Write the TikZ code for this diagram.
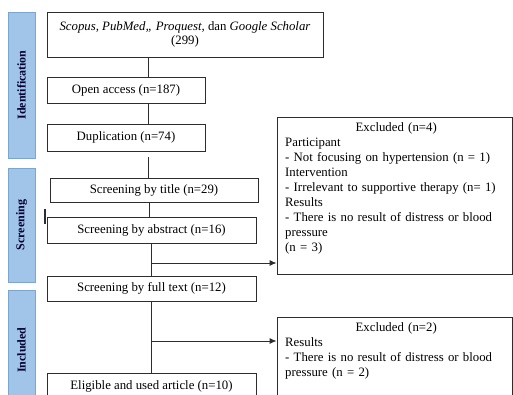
\documentclass[tikz,border=0pt]{standalone}
\usepackage{fontspec}
\setmainfont{Liberation Serif}
\usetikzlibrary{arrows.meta,calc}
\definecolor{barblue}{RGB}{160,197,232}
\definecolor{bardraw}{RGB}{125,165,210}
\definecolor{ln}{RGB}{45,45,45}
\begin{document}
\begin{tikzpicture}[x=1pt,y=-1pt,
  font=\fontsize{12.8}{14.8}\selectfont,
  box/.style={draw=ln, line width=0.9pt, inner sep=0pt, align=center},
  bar/.style={draw=bardraw, fill=barblue, line width=0.7pt, rotate=90,
    font=\fontsize{12}{14}\selectfont\bfseries, text=black!80!blue, inner sep=0pt},
  conn/.style={draw=ln, line width=0.9pt},
  arr/.style={conn, -{Latex[length=7pt,width=6pt]}},
  extext/.style={anchor=north west, text width=222pt, align=left, inner sep=0pt,
    font=\fontsize{12.8}{15.1}\selectfont}]
\useasboundingbox (0,0) rectangle (513,395);
\clip (0,0) rectangle (513,395);
\fill[white] (0,0) rectangle (513,395);

% phase bars
\node[bar, minimum width=146pt, minimum height=27pt] (bid) at (21.5,85) {Identification};
\node[bar, minimum width=114pt, minimum height=27pt] (bsc) at (21.5,225) {Screening};
\node[bar, minimum width=120pt, minimum height=27pt] (bin) at (21.5,350) {Included};

% main boxes
\node[box, minimum width=276pt, minimum height=45pt] (src) at (185,34.5)
  {\textit{Scopus, PubMed,, Proquest,} dan \textit{Google Scholar}\\(299)};
\node[box, minimum width=158pt, minimum height=26pt] (open) at (126,90) {Open access (n=187)};
\node[box, minimum width=158pt, minimum height=27pt] (dup) at (126,137.5) {Duplication (n=74)};
\node[box, minimum width=208pt, minimum height=24pt] (title) at (154,190) {Screening by title (n=29)};
\node[box, minimum width=209pt, minimum height=26pt] (abs) at (151.5,230) {Screening by abstract (n=16)};
\node[box, minimum width=209pt, minimum height=25pt] (full) at (151.5,288.5) {Screening by full text (n=12)};
\node[box, minimum width=209pt, minimum height=26pt] (elig) at (151.5,386) {Eligible and used article (n=10)};

% excluded boxes
\node[box, minimum width=235pt, minimum height=157pt] (ex1) at (394.5,195.5) {};
\node[extext] (ex1t) at (285,122) {\makebox[222pt]{Excluded (n=4)}\\
Participant\\
- Not focusing on hypertension (n = 1)\\
Intervention\\
- Irrelevant to supportive therapy (n= 1)\\
Results\\
\makebox[222pt][s]{- There is no result of distress or blood}\\
pressure\\
(n = 3)};

\node[box, minimum width=235pt, minimum height=100pt] (ex2) at (394.5,367) {};
\node[extext] (ex2t) at (285,322) {\makebox[222pt]{Excluded (n=2)}\\
Results\\
- There is no result of distress or blood\\
pressure (n = 2)};

% connectors
\coordinate (xa) at (148,0);
\coordinate (xb) at (149,0);
\coordinate (xc) at (151,0);
\coordinate (b1) at (151,263);
\coordinate (b2) at (151,341);
\draw[conn] (src.south -| xa) -- (open.north -| xa);
\draw[conn] (open.south -| xa) -- (dup.north -| xa);
\draw[conn, shorten <=6pt] (dup.south -| xa) -- (title.north -| xa);
\draw[conn] (title.south -| xb) -- (abs.north -| xb);
\draw[conn] (abs.south -| xc) -- (full.north -| xc);
\draw[conn] (full.south -| xc) -- (elig.north -| xc);
\draw[arr] (b1) -- (b1 -| ex1.west);
\draw[arr] (b2) -- (b2 -| ex2.west);
\draw[conn, line width=1.2pt] (45,209) -- (45,224);
\end{tikzpicture}
\end{document}
